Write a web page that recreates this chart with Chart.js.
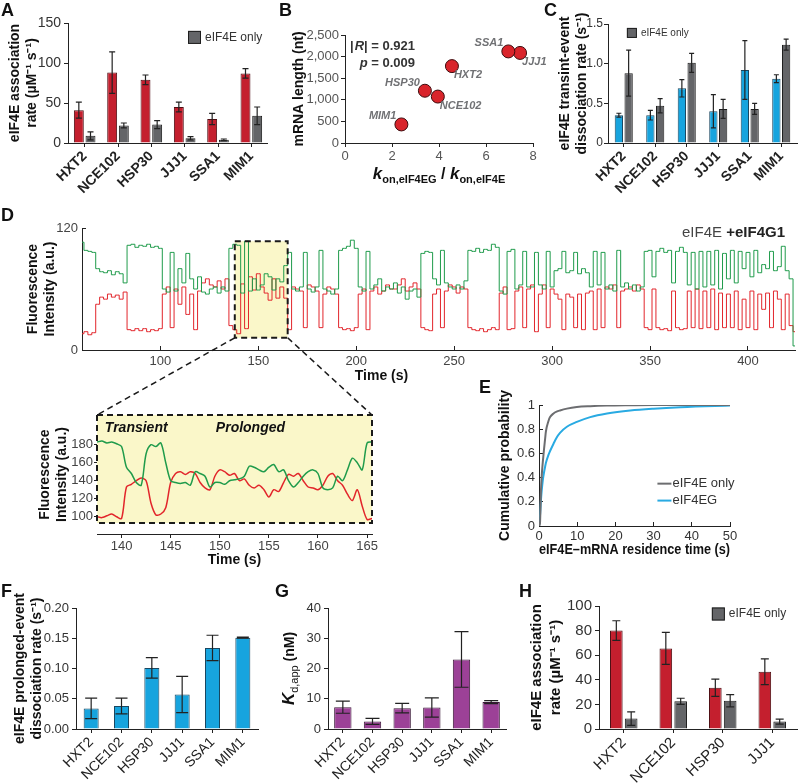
<!DOCTYPE html>
<html>
<head>
<meta charset="utf-8">
<title>eIF4E panels</title>
<script src="https://cdn.jsdelivr.net/npm/chart.js@4.4.1/dist/chart.umd.min.js"></script>
<style>
  body { margin: 0; background: #fff; }
  #page { position: relative; width: 798px; height: 784px; overflow: hidden; }
  #page canvas { position: absolute; }
  .tag { position: absolute; font: bold 18px "Liberation Sans", Arial, sans-serif; line-height: 18px; color: #111; }
</style>
</head>
<body>
<div id="page">
  <canvas id="chartA"></canvas>
  <canvas id="chartB"></canvas>
  <canvas id="chartC"></canvas>
  <canvas id="chartD"></canvas>
  <canvas id="chartInset"></canvas>
  <canvas id="chartE"></canvas>
  <canvas id="chartF"></canvas>
  <canvas id="chartG"></canvas>
  <canvas id="chartH"></canvas>
  <div class="tag" style="left:1px;top:1px">A</div>
  <div class="tag" style="left:279px;top:1px">B</div>
  <div class="tag" style="left:544px;top:1px">C</div>
  <div class="tag" style="left:1px;top:206px">D</div>
  <div class="tag" style="left:479px;top:378px">E</div>
  <div class="tag" style="left:1px;top:582px">F</div>
  <div class="tag" style="left:275px;top:582px">G</div>
  <div class="tag" style="left:519px;top:582px">H</div>
</div>
<script>
// ---------- data ----------
const genes = ['HXT2', 'NCE102', 'HSP30', 'JJJ1', 'SSA1', 'MIM1'];
const genesH = ['HXT2', 'NCE102', 'HSP30', 'JJJ1'];

// A - association rate
const aWithG = [41, 88, 79, 45, 30, 87];
const aWithGErr = [10, 26, 6, 6, 7, 6];
const aOnly = [9, 22, 23, 6, 4, 34];
const aOnlyErr = [5, 3, 5, 2, 1, 11];

// B - mRNA length vs kon ratio
const bRatio = [4.55, 3.95, 3.4, 7.45, 6.95, 2.4];
const bLength = [1780, 1075, 1210, 2085, 2120, 430];
const bLabelSide = ['right', 'right', 'left', 'right', 'left', 'left'];

// C - transient-event dissociation rate
const cWithG = [0.35, 0.35, 0.69, 0.40, 0.92, 0.81];
const cWithGErr = [0.025, 0.06, 0.11, 0.21, 0.37, 0.05];
const cOnly = [0.88, 0.47, 1.01, 0.43, 0.43, 1.24];
const cOnlyErr = [0.29, 0.09, 0.12, 0.12, 0.07, 0.07];

// D - fluorescence trace, one value every 2 s from 60 s
const dGreen = [
  106, 98, 97, 96, 80, 77, 76, 78, 74, 77, 75, 66, 103, 104, 101, 103, 102, 104, 101, 102,
  100, 60, 57, 96, 58, 80, 66, 95, 70, 60, 72, 57, 55, 60, 62, 56, 62, 58, 100, 104,
  103, 56, 107, 58, 70, 59, 64, 75, 72, 59, 70, 67, 83, 96, 60, 58, 62, 96, 60, 57,
  62, 98, 60, 58, 55, 60, 98, 100, 102, 108, 100, 62, 58, 97, 60, 64, 70, 58, 62, 60,
  66, 56, 62, 50, 58, 60, 52, 95, 97, 96, 70, 64, 98, 66, 62, 60, 64, 60, 68, 98,
  97, 100, 96, 99, 98, 104, 101, 58, 55, 97, 99, 60, 64, 97, 62, 62, 96, 64, 60, 97,
  62, 78, 80, 97, 76, 78, 96, 75, 80, 76, 62, 97, 64, 96, 60, 64, 58, 98, 62, 66,
  60, 64, 58, 62, 97, 98, 72, 97, 100, 96, 98, 66, 97, 101, 96, 64, 96, 60, 97, 62,
  97, 64, 98, 60, 95, 70, 98, 66, 97, 80, 96, 72, 98, 76, 84, 80, 97, 78, 82, 102,
  78, 70, 4
];
const dRed = [
  16, 18, 15, 17, 45, 52, 50, 55, 52, 54, 50, 57, 20, 19, 21, 19, 21, 18, 20, 19,
  21, 55, 62, 22, 60, 45, 62, 35, 55, 20, 58, 66, 70, 64, 62, 68, 60, 70, 24, 20,
  16, 65, 21, 72, 59, 75, 62, 56, 49, 70, 51, 62, 51, 20, 62, 60, 58, 22, 64, 62,
  58, 22, 55, 62, 60, 55, 22, 20, 21, 19, 22, 55, 60, 20, 58, 62, 55, 58, 64, 60,
  60, 64, 70, 58, 62, 66, 60, 22, 20, 19, 55, 60, 22, 58, 64, 62, 56, 62, 60, 22,
  20, 19, 21, 18, 20, 22, 20, 56, 62, 20, 21, 58, 62, 22, 60, 64, 18, 55, 64, 22,
  60, 55, 50, 20, 55, 52, 22, 55, 20, 56, 58, 20, 60, 22, 62, 60, 64, 22, 58, 60,
  62, 58, 64, 60, 22, 20, 60, 22, 20, 21, 19, 58, 22, 20, 21, 58, 22, 60, 21, 58,
  22, 60, 20, 56, 22, 55, 22, 58, 20, 50, 22, 58, 20, 55, 40, 56, 22, 58, 50, 20,
  55, 24, 18
];
const dTime = dGreen.map((_, i) => 60 + 2 * i);
const dXTicks = [100, 150, 200, 250, 300, 350, 400];
const dYTicks = [0, 120];

// D inset - one value every 0.5 s from 137.5 s
const inGreen = [
  183, 184, 182, 183, 181, 178, 155, 148, 138, 135, 170, 180, 178, 182, 160, 140, 138, 137, 138, 135,
  150, 148, 145, 133, 138, 138, 136, 140, 141, 142, 145, 156, 155, 152, 150, 155, 158, 150, 152, 140,
  133, 138, 145, 150, 152, 148, 132, 130, 132, 145, 140, 152, 165, 160, 152, 182, 183
];
const inRed = [
  100, 99, 101, 103, 100, 98, 133, 136, 140, 143, 140, 115, 102, 103, 110, 138, 148, 150, 147, 150,
  148, 138, 132, 130, 145, 152, 150, 146, 148, 140, 142, 135, 132, 135, 130, 122, 130, 128, 138, 147,
  145, 148, 140, 133, 132, 130, 135, 145, 148, 140, 135, 125, 118, 130, 112, 97, 98
];
const inTime = inGreen.map((_, i) => 137.5 + 0.5 * i);
const inXTicks = [140, 145, 150, 155, 160, 165];
const inYTicks = [100, 120, 140, 160, 180];

// E - cumulative residence time
const eTime = [0, 0.25, 0.5, 0.7, 1.0, 1.3, 1.6, 1.8, 2.5, 2.9, 3.8, 4.6, 5.5, 7.3, 9.9, 13.4, 17.8, 23.9, 30, 37, 46, 50];
const eOnly = [0, 0.02, 0.28, 0.41, 0.53, 0.63, 0.72, 0.78, 0.87, 0.90, 0.93, 0.945, 0.955, 0.97, 0.983, 0.99, 0.995, 0.998, 1, 1, 1, 1];
const eWithG = [0, 0.08, 0.21, 0.29, 0.38, 0.44, 0.49, 0.52, 0.59, 0.62, 0.68, 0.73, 0.77, 0.82, 0.86, 0.90, 0.93, 0.955, 0.97, 0.982, 0.992, 0.995];

// F - prolonged-event dissociation rate
const fWithG = [0.034, 0.038, 0.101, 0.057, 0.134, 0.151];
const fErr = [0.017, 0.013, 0.017, 0.030, 0.021, 0.001];

// G - Kd,app
const gKd = [7.2, 2.5, 6.9, 7.1, 23.0, 8.9];
const gErr = [2.0, 1.0, 1.6, 3.2, 9.2, 0.5];

// H - association rate, 4 mRNAs
const hWithG = [80, 65.5, 33.5, 46.5];
const hWithGErr = [8, 13, 7, 10.5];
const hOnly = [8.5, 22.5, 23, 6];
const hOnlyErr = [5.5, 2.5, 5, 2];

// ---------- style ----------
const FONT = '"Liberation Sans", Arial, Helvetica, sans-serif';
const RED = '#c41f2e', RED_EDGE = '#4d0e13';
const GRAY = '#646568', GRAY_EDGE = '#1e1e1e';
const BLUE = '#17a4de', BLUE_EDGE = '#1a4760';
const PURPLE = '#9c4197', PURPLE_EDGE = '#3b1838';
const BOX_FILL = '#faf7c9';
const AXIS = '#222';

Chart.defaults.font.family = FONT;
Chart.defaults.color = '#333';
Chart.defaults.animation = false;
Chart.defaults.responsive = false;
Chart.defaults.plugins.legend.display = false;
Chart.defaults.plugins.tooltip.enabled = false;

const D_TOP = 195, IN_TOP = 335;
const zoomFrom = 138, zoomTo = 165, zoomLow = 12, zoomHigh = 107;
let chartD = null;

function place(id, left, top, w, h) {
  const c = document.getElementById(id);
  c.width = w; c.height = h;
  c.style.left = left + 'px'; c.style.top = top + 'px';
  return c;
}

function f(size, weight, style) {
  return (style || '') + ' ' + (weight || '') + ' ' + size + 'px ' + FONT;
}

// error bars from dataset.errors, drawn through the y scale
const errorBars = {
  id: 'errorBars',
  afterDatasetsDraw(chart) {
    const ctx = chart.ctx, y = chart.scales.y;
    chart.data.datasets.forEach((ds, i) => {
      if (!ds.errors) return;
      const meta = chart.getDatasetMeta(i);
      const cw = ds.capHalf || 3;
      ctx.save();
      ctx.strokeStyle = AXIS;
      ctx.lineWidth = 1.2;
      meta.data.forEach((bar, j) => {
        const top = y.getPixelForValue(ds.data[j] + ds.errors[j]);
        const bot = y.getPixelForValue(Math.max(0, ds.data[j] - ds.errors[j]));
        ctx.beginPath();
        ctx.moveTo(bar.x, top); ctx.lineTo(bar.x, bot);
        ctx.moveTo(bar.x - cw, top); ctx.lineTo(bar.x + cw, top);
        ctx.moveTo(bar.x - cw, bot); ctx.lineTo(bar.x + cw, bot);
        ctx.stroke();
      });
      ctx.restore();
    });
  }
};

// square legend inside the plot
const boxLegend = {
  id: 'boxLegend',
  afterDraw(chart, args, o) {
    const a = chart.chartArea, ctx = chart.ctx;
    const x = a.left + o.fx * (a.right - a.left);
    const y = a.top + o.fy * (a.bottom - a.top);
    ctx.save();
    ctx.fillStyle = o.fill;
    ctx.fillRect(x, y - o.size / 2, o.size, o.size);
    ctx.strokeStyle = o.edge; ctx.lineWidth = 1;
    ctx.strokeRect(x + 0.5, y - o.size / 2 + 0.5, o.size - 1, o.size - 1);
    ctx.fillStyle = '#333';
    ctx.font = f(o.fontSize);
    ctx.textBaseline = 'middle';
    ctx.fillText(o.text, x + o.size + 4, y);
    ctx.restore();
  }
};

function axisGrid(len) {
  return { display: true, drawOnChartArea: false, drawTicks: true, tickLength: len, color: AXIS, lineWidth: 1 };
}

function barChart(id, box, cats, sets, cfg) {
  const c = place(id, box[0], box[1], box[2], box[3]);
  const plugins = [errorBars];
  if (cfg.legend) plugins.push(boxLegend);
  const yTitle = cfg.title
    ? { display: true, text: cfg.title, font: { size: cfg.titleSize || 14, weight: 'bold', lineHeight: cfg.titleLH || 1.2 }, color: '#111', padding: { top: cfg.titlePad, bottom: 0 } }
    : { display: false };
  return new Chart(c, {
    type: 'bar',
    data: { labels: cats, datasets: sets },
    options: {
      layout: { padding: { top: cfg.top, right: cfg.right, left: 0, bottom: 0 } },
      scales: {
        x: {
          grid: Object.assign(axisGrid(4), { offset: false }),
          border: { color: AXIS, width: 1 },
          ticks: { autoSkip: false, minRotation: 45, maxRotation: 45, padding: cfg.xPad || 1, color: '#222', font: { size: cfg.xSize || 14, weight: cfg.xWeight || 'normal' } },
          afterFit: s => { s.height = cfg.xH; }
        },
        y: {
          min: 0, max: cfg.max,
          grid: axisGrid(4),
          border: { color: AXIS, width: 1 },
          ticks: { stepSize: cfg.step, color: '#333', padding: cfg.yPad || 3, font: { size: cfg.ySize || 13 }, callback: cfg.fmt || (v => v) },
          title: yTitle,
          afterFit: s => { s.width = cfg.yW; }
        }
      },
      plugins: { boxLegend: cfg.legend || false }
    },
    plugins: plugins
  });
}

function bars(data, errors, fill, edge, catPct, barPct, capHalf) {
  return {
    data: data, errors: errors, backgroundColor: fill, borderColor: edge, borderWidth: 1,
    categoryPercentage: catPct, barPercentage: barPct, capHalf: capHalf
  };
}

// draws a run of text pieces (for subscripts) centred on (0,0) of the current transform
function drawPieces(ctx, pieces) {
  let w = 0;
  pieces.forEach(p => { ctx.font = p.font; p.w = ctx.measureText(p.t).width; w += p.w; });
  let x = -w / 2;
  ctx.textBaseline = 'alphabetic';
  ctx.textAlign = 'left';
  pieces.forEach(p => { ctx.font = p.font; ctx.fillText(p.t, x, p.dy || 0); x += p.w; });
}

// ---------- A ----------
barChart('chartA', [0, 0, 268, 195], genes, [
  bars(aWithG, aWithGErr, RED, RED_EDGE, 0.7, 0.85, 3),
  bars(aOnly, aOnlyErr, GRAY, GRAY_EDGE, 0.7, 0.85, 3)
], {
  top: 23, right: 0, yW: 68, xH: 52, max: 150, step: 50, ySize: 14, xWeight: 'bold', xSize: 14,
  title: ['eIF4E association', 'rate (µM⁻¹ s⁻¹)'], titlePad: 6.5,
  legend: { fx: 0.6, fy: 0.12, size: 13, fill: GRAY, edge: GRAY_EDGE, fontSize: 12, text: 'eIF4E only' }
});

// ---------- B ----------
const scatterDeco = {
  id: 'scatterDeco',
  afterDraw(chart) {
    const ctx = chart.ctx, a = chart.chartArea;
    const meta = chart.getDatasetMeta(0);
    ctx.save();
    ctx.fillStyle = '#707174';
    ctx.font = f(11, 'bold', 'italic');
    ctx.textBaseline = 'middle';
    meta.data.forEach((pt, i) => {
      if (bLabelSide[i] === 'left') {
        ctx.textAlign = 'right';
        ctx.fillText(genes[i], pt.x - 5, pt.y - 8);
      } else {
        ctx.textAlign = 'left';
        ctx.fillText(genes[i], pt.x + 2, pt.y + 9);
      }
    });
    // correlation text
    ctx.fillStyle = '#333';
    ctx.textBaseline = 'alphabetic';
    ctx.textAlign = 'right';
    const rx = a.left + 70;
    ctx.font = f(13, 'bold');
    const tail = '| = 0.921';
    const wTail = ctx.measureText(tail).width;
    ctx.fillText(tail, rx, a.top + 15);
    ctx.font = f(13, 'bold', 'italic');
    const wR = ctx.measureText('R').width;
    ctx.fillText('R', rx - wTail, a.top + 15);
    ctx.font = f(13, 'bold');
    ctx.fillText('|', rx - wTail - wR - 1, a.top + 15);
    const tail2 = ' = 0.009';
    const w2 = ctx.measureText(tail2).width;
    ctx.fillText(tail2, rx, a.top + 32);
    ctx.font = f(13, 'bold', 'italic');
    ctx.fillText('p', rx - w2, a.top + 32);
    // x title with subscripts
    ctx.fillStyle = '#111';
    ctx.translate((a.left + a.right) / 2, a.bottom + 36);
    drawPieces(ctx, [
      { t: 'k', font: f(17, 'bold', 'italic') },
      { t: 'on,eIF4EG', font: f(11, 'bold'), dy: 4 },
      { t: ' / ', font: f(16, 'bold') },
      { t: 'k', font: f(17, 'bold', 'italic') },
      { t: 'on,eIF4E', font: f(11, 'bold'), dy: 4 }
    ]);
    ctx.restore();
  }
};

new Chart(place('chartB', 262, 0, 290, 195), {
  type: 'scatter',
  data: {
    datasets: [{
      data: bRatio.map((x, i) => ({ x: x, y: bLength[i] })),
      backgroundColor: '#d9242b', borderColor: '#3c0b0d', borderWidth: 1, pointRadius: 6.5
    }]
  },
  options: {
    layout: { padding: { top: 35, right: 19, left: 0, bottom: 0 } },
    scales: {
      x: {
        type: 'linear', min: 0, max: 8,
        grid: axisGrid(4), border: { color: AXIS },
        ticks: { stepSize: 2, color: '#555', font: { size: 13 }, padding: 2 },
        afterFit: s => { s.height = 52; }
      },
      y: {
        min: 0, max: 2500,
        grid: axisGrid(4), border: { color: AXIS },
        ticks: { stepSize: 500, color: '#555', font: { size: 13 }, padding: 2, callback: v => v.toLocaleString('en-US') },
        title: { display: true, text: 'mRNA length (nt)', font: { size: 14, weight: 'bold' }, color: '#111', padding: { top: 29, bottom: 0 } },
        afterFit: s => { s.width = 83; }
      }
    }
  },
  plugins: [scatterDeco]
});

// ---------- C ----------
barChart('chartC', [520, 0, 278, 195], genes, [
  bars(cWithG, cWithGErr, BLUE, BLUE_EDGE, 0.62, 0.85, 2.5),
  bars(cOnly, cOnlyErr, GRAY, GRAY_EDGE, 0.62, 0.85, 2.5)
], {
  top: 24, right: 1, yW: 88, xH: 52, max: 1.5, step: 0.5, ySize: 12, yPad: 1, xWeight: 'bold', xSize: 14,
  fmt: v => (v === 0 ? '0' : v.toFixed(1)),
  title: ['eIF4E transint-event', 'dissociation rate (s⁻¹)'], titlePad: 37,
  legend: { fx: 0.1, fy: 0.075, size: 10, fill: GRAY, edge: GRAY_EDGE, fontSize: 10, text: 'eIF4E only' }
});

// ---------- D ----------
const traceDeco = {
  id: 'traceDeco',
  beforeDatasetsDraw(chart) {
    const { ctx, scales: { x, y } } = chart;
    const l = x.getPixelForValue(zoomFrom), r = x.getPixelForValue(zoomTo);
    const t = y.getPixelForValue(zoomHigh), b = y.getPixelForValue(zoomLow);
    ctx.save();
    ctx.fillStyle = BOX_FILL;
    ctx.fillRect(l, t, r - l, b - t);
    ctx.restore();
  },
  afterDatasetsDraw(chart) {
    const { ctx, scales: { x, y } } = chart;
    const l = x.getPixelForValue(zoomFrom), r = x.getPixelForValue(zoomTo);
    const t = y.getPixelForValue(zoomHigh), b = y.getPixelForValue(zoomLow);
    ctx.save();
    ctx.strokeStyle = '#1a1a1a';
    ctx.lineWidth = 2;
    ctx.setLineDash([6, 4]);
    ctx.strokeRect(l, t, r - l, b - t);
    ctx.restore();
  },
  afterDraw(chart) {
    const ctx = chart.ctx, a = chart.chartArea;
    ctx.save();
    ctx.textBaseline = 'middle';
    ctx.textAlign = 'right';
    ctx.fillStyle = '#222';
    ctx.font = f(15, 'bold');
    const bold = '+eIF4G1';
    const wb = ctx.measureText(bold).width;
    ctx.fillText(bold, a.right - 10, a.top + 5);
    ctx.font = f(15);
    ctx.fillStyle = '#444';
    ctx.fillText('eIF4E ', a.right - 10 - wb, a.top + 5);
    ctx.fillStyle = '#111';
    ctx.textAlign = 'center';
    ctx.font = f(14, 'bold');
    ctx.fillText('Time (s)', a.left + 0.42 * (a.right - a.left), a.bottom + 26);
    ctx.restore();
  }
};

chartD = new Chart(place('chartD', 0, D_TOP, 798, 190), {
  type: 'line',
  data: {
    datasets: [
      { data: dTime.map((t, i) => ({ x: t, y: dGreen[i] })), borderColor: '#1f9b4b', borderWidth: 1, pointRadius: 0, stepped: 'middle' },
      { data: dTime.map((t, i) => ({ x: t, y: dRed[i] })), borderColor: '#e2252b', borderWidth: 1, pointRadius: 0, stepped: 'middle' }
    ]
  },
  options: {
    layout: { padding: { top: 33, right: 3, left: 0, bottom: 0 } },
    scales: {
      x: {
        type: 'linear', min: 60, max: 424,
        afterBuildTicks: s => { s.ticks = dXTicks.map(v => ({ value: v })); },
        grid: axisGrid(-4), border: { color: AXIS },
        ticks: { color: '#444', font: { size: 13 }, padding: 8 },
        afterFit: s => { s.height = 35; }
      },
      y: {
        min: 0, max: 120,
        afterBuildTicks: s => { s.ticks = dYTicks.map(v => ({ value: v })); },
        grid: axisGrid(-4), border: { color: AXIS },
        ticks: { color: '#444', font: { size: 13 }, padding: 8 },
        title: { display: true, text: ['Fluorescence', 'Intensity (a.u.)'], font: { size: 14, weight: 'bold' }, color: '#111', padding: { top: 24.5, bottom: 0 } },
        afterFit: s => { s.width = 82; }
      }
    }
  },
  plugins: [traceDeco]
});

// ---------- D inset ----------
const insetDeco = {
  id: 'insetDeco',
  beforeDatasetsDraw(chart) {
    const { ctx, scales: { x, y } } = chart;
    const l = x.getPixelForValue(137.5), r = x.getPixelForValue(165.5);
    const t = y.getPixelForValue(213), b = y.getPixelForValue(93);
    ctx.save();
    ctx.fillStyle = BOX_FILL;
    ctx.fillRect(l, t, r - l, b - t);
    ctx.restore();
  },
  afterDatasetsDraw(chart) {
    const { ctx, scales: { x, y } } = chart;
    const l = x.getPixelForValue(137.5), r = x.getPixelForValue(165.5);
    const t = y.getPixelForValue(213), b = y.getPixelForValue(93);
    ctx.save();
    ctx.strokeStyle = '#1a1a1a';
    ctx.lineWidth = 2;
    ctx.setLineDash([6, 4]);
    ctx.strokeRect(l, t, r - l, b - t);
    // connectors up to the box in D
    const dx = chartD.scales.x, dy = chartD.scales.y;
    const yTop = dy.getPixelForValue(zoomLow) + D_TOP - IN_TOP;
    ctx.lineWidth = 1.5;
    ctx.beginPath();
    ctx.moveTo(dx.getPixelForValue(zoomFrom), yTop); ctx.lineTo(l, t);
    ctx.moveTo(dx.getPixelForValue(zoomTo), yTop); ctx.lineTo(r, t);
    ctx.stroke();
    ctx.setLineDash([]);
    ctx.fillStyle = '#111';
    ctx.font = f(14, 'bold', 'italic');
    ctx.textBaseline = 'middle';
    ctx.fillText('Transient', x.getPixelForValue(138.3), y.getPixelForValue(198));
    ctx.fillText('Prolonged', x.getPixelForValue(149.6), y.getPixelForValue(198));
    ctx.restore();
  }
};

new Chart(place('chartInset', 0, IN_TOP, 400, 235), {
  type: 'line',
  data: {
    datasets: [
      { data: inTime.map((t, i) => ({ x: t, y: inGreen[i] })), borderColor: '#1f9b4b', borderWidth: 1.5, pointRadius: 0, tension: 0.3 },
      { data: inTime.map((t, i) => ({ x: t, y: inRed[i] })), borderColor: '#e2252b', borderWidth: 1.5, pointRadius: 0, tension: 0.3 }
    ]
  },
  options: {
    layout: { padding: { top: 80, right: 28, left: 0, bottom: 0 } },
    scales: {
      x: {
        type: 'linear', min: 137.5, max: 165.5,
        afterBuildTicks: s => { s.ticks = inXTicks.map(v => ({ value: v })); },
        grid: axisGrid(4), border: { color: AXIS },
        ticks: { color: '#444', font: { size: 13 }, padding: 1 },
        title: { display: true, text: 'Time (s)', font: { size: 14, weight: 'bold' }, color: '#111', padding: { top: 0, bottom: 1 } },
        afterFit: s => { s.height = 36; }
      },
      y: {
        min: 80.8, max: 213,
        afterBuildTicks: s => { s.ticks = inYTicks.map(v => ({ value: v })); },
        grid: axisGrid(3), border: { display: false },
        ticks: { color: '#444', font: { size: 13 }, padding: 1 },
        title: { display: true, text: ['Fluorescence', 'Intensity (a.u.)'], font: { size: 14, weight: 'bold' }, color: '#111', padding: { top: 36.5, bottom: 0 } },
        afterFit: s => { s.width = 97; }
      }
    }
  },
  plugins: [insetDeco]
});

// ---------- E ----------
const lineLegend = {
  id: 'lineLegend',
  afterDraw(chart) {
    const ctx = chart.ctx, a = chart.chartArea;
    const x = a.left + 0.62 * (a.right - a.left);
    ctx.save();
    ctx.font = f(13);
    ctx.textBaseline = 'middle';
    chart.data.datasets.forEach((ds, i) => {
      const y = a.top + (0.65 + 0.14 * i) * (a.bottom - a.top);
      ctx.strokeStyle = ds.borderColor; ctx.lineWidth = 2;
      ctx.beginPath(); ctx.moveTo(x, y); ctx.lineTo(x + 14, y); ctx.stroke();
      ctx.fillStyle = '#333';
      ctx.fillText(ds.label, x + 15, y);
    });
    ctx.restore();
  }
};

new Chart(place('chartE', 480, 378, 318, 190), {
  type: 'line',
  data: {
    datasets: [
      { label: 'eIF4E only', data: eTime.map((t, i) => ({ x: t, y: eOnly[i] })), borderColor: '#6c6d70', borderWidth: 2, pointRadius: 0, cubicInterpolationMode: 'monotone' },
      { label: 'eIF4EG', data: eTime.map((t, i) => ({ x: t, y: eWithG[i] })), borderColor: '#29aae2', borderWidth: 2, pointRadius: 0, cubicInterpolationMode: 'monotone' }
    ]
  },
  options: {
    layout: { padding: { top: 27, right: 68, left: 0, bottom: 0 } },
    scales: {
      x: {
        type: 'linear', min: 0, max: 50,
        grid: axisGrid(-4), border: { color: AXIS },
        ticks: { stepSize: 10, color: '#333', font: { size: 13 }, padding: 7 },
        title: { display: true, text: 'eIF4E–mRNA residence time (s)', font: { size: 14, weight: 'bold' }, color: '#111', padding: { top: 0, bottom: 9.5 } },
        afterFit: s => { s.height = 42; }
      },
      y: {
        min: 0, max: 1,
        grid: axisGrid(-4), border: { color: AXIS },
        ticks: { stepSize: 0.2, color: '#333', font: { size: 13 }, padding: 8, callback: v => (v === 0 || v === 1 ? String(v) : v.toFixed(1)) },
        title: { display: true, text: 'Cumulative probability', font: { size: 14, weight: 'bold' }, color: '#111', padding: { top: 16.5, bottom: 0 } },
        afterFit: s => { s.width = 59; }
      }
    }
  },
  plugins: [lineLegend]
});

// ---------- F ----------
barChart('chartF', [0, 580, 266, 204], genes, [
  bars(fWithG, fErr, BLUE, BLUE_EDGE, 0.55, 0.9, 6)
], {
  top: 28, right: 8, yW: 76, xH: 55, max: 0.2, step: 0.05, ySize: 13, xSize: 14,
  fmt: v => v.toFixed(2),
  title: ['eIF4E prolonged-event', 'dissociation rate (s⁻¹)'], titlePad: 11.5
});

// ---------- G ----------
const kdTitle = {
  id: 'kdTitle',
  afterDraw(chart) {
    const ctx = chart.ctx, a = chart.chartArea;
    ctx.save();
    ctx.fillStyle = '#111';
    ctx.translate(26, (a.top + a.bottom) / 2);
    ctx.rotate(-Math.PI / 2);
    ctx.translate(0, 6);
    drawPieces(ctx, [
      { t: 'K', font: f(17, 'bold', 'italic') },
      { t: 'd,app', font: f(11), dy: 4 },
      { t: ' (nM)', font: f(14, 'bold') }
    ]);
    ctx.restore();
  }
};
const chartG = barChart('chartG', [262, 580, 256, 204], genes, [
  bars(gKd, gErr, PURPLE, PURPLE_EDGE, 0.65, 0.9, 7)
], {
  top: 28, right: 12, yW: 66, xH: 55, max: 40, step: 10, ySize: 13, xSize: 14
});
kdTitle.afterDraw(chartG);

// ---------- H ----------
barChart('chartH', [520, 580, 278, 204], genesH, [
  bars(hWithG, hWithGErr, RED, RED_EDGE, 0.6, 0.85, 4),
  bars(hOnly, hOnlyErr, GRAY, GRAY_EDGE, 0.6, 0.85, 4)
], {
  top: 26, right: 1, yW: 79, xH: 55, max: 100, step: 20, ySize: 15, xSize: 15,
  title: ['eIF4E association', 'rate (µM⁻¹ s⁻¹)'], titleSize: 15, titleLH: 1.3, titlePad: 7,
  legend: { fx: 0.57, fy: 0.065, size: 13, fill: GRAY, edge: GRAY_EDGE, fontSize: 12, text: 'eIF4E only' }
});
</script>
</body>
</html>
